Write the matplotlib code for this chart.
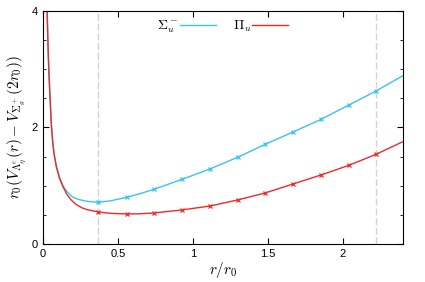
import matplotlib
matplotlib.use("Agg")
import matplotlib.pyplot as plt
import numpy as np

plt.rcParams['font.family'] = ['Liberation Sans', 'DejaVu Sans']
plt.rcParams['mathtext.fontset'] = 'cm'

# curve samples
curve_r = [0.028, 0.035, 0.04, 0.045, 0.05, 0.056, 0.065, 0.074, 0.09, 0.11, 0.134,
           0.16, 0.19, 0.22, 0.26, 0.30, 0.37, 0.45, 0.559, 0.65, 0.742, 0.929,
           1.116, 1.298, 1.483, 1.668, 1.855, 2.04, 2.222, 2.4]
sigma_curve = [4.0, 3.3, 2.95, 2.65, 2.38, 2.05, 1.76, 1.55, 1.33, 1.15, 1.0,
               0.9, 0.82, 0.78, 0.75, 0.73, 0.716, 0.74, 0.80, 0.865, 0.939, 1.11,
               1.29, 1.488, 1.711, 1.923, 2.14, 2.386, 2.627, 2.89]
pi_curve = [4.0, 3.3, 2.95, 2.65, 2.38, 2.05, 1.76, 1.55, 1.32, 1.13, 0.98,
            0.85, 0.75, 0.68, 0.62, 0.585, 0.549, 0.525, 0.515, 0.518, 0.532, 0.584,
            0.652, 0.755, 0.876, 1.03, 1.185, 1.35, 1.54, 1.756]

# lattice data points
pts_r = [0.37, 0.559, 0.742, 0.929, 1.116, 1.298, 1.483, 1.668, 1.855, 2.04, 2.222]
sigma_pts = [0.716, 0.80, 0.939, 1.11, 1.29, 1.488, 1.711, 1.923, 2.14, 2.386, 2.627]
pi_pts = [0.549, 0.515, 0.532, 0.584, 0.652, 0.755, 0.876, 1.03, 1.185, 1.35, 1.54]

vlines = [0.37, 2.222]

blue = '#38c4f2'
red = '#f02828'

fig = plt.figure(figsize=(4.25, 2.82), dpi=100)
ax = fig.add_axes([0.101, 0.135, 0.847, 0.826])

for v in vlines:
    ax.axvline(v, color='#d4d4d4', lw=1.0, ls=(0, (5, 2)), zorder=0)

ax.plot(curve_r, sigma_curve, color=blue, lw=1.0, label=r'$\Sigma_u^-$')
ax.plot(curve_r, pi_curve, color=red, lw=1.0, label=r'$\Pi_u$')
ax.plot(pts_r, sigma_pts, ls='none', marker='x', ms=2.5, mew=0.9, color=blue)
ax.plot(pts_r, pi_pts, ls='none', marker='x', ms=2.5, mew=0.9, color=red)

ax.set_xlim(0, 2.4)
ax.set_ylim(0, 4)
ax.set_xticks([0, 0.5, 1, 1.5, 2])
ax.set_xticklabels(['0', '0.5', '1', '1.5', '2'])
ax.set_yticks([0, 2, 4])
ax.set_yticks(np.arange(0, 4.01, 0.5), minor=True)
ax.tick_params(which='both', direction='in', top=True, right=True, labelsize=8)
ax.tick_params(which='major', length=4)
ax.tick_params(which='minor', length=2.5)

ax.set_xlabel(r'$r/r_0$', fontsize=11, labelpad=1)
ax.set_ylabel(r'$r_0(V_{\Lambda_\eta^\epsilon}(r)-V_{\Sigma_g^+}(2r_0))$', fontsize=11, labelpad=2)

ax.legend(loc='upper center', bbox_to_anchor=(0.5, 1.02), ncol=2, frameon=False,
          markerfirst=False, fontsize=10, handlelength=2.6, columnspacing=1.2,
          handletextpad=0.1)

fig.savefig('out.png', dpi=100)
